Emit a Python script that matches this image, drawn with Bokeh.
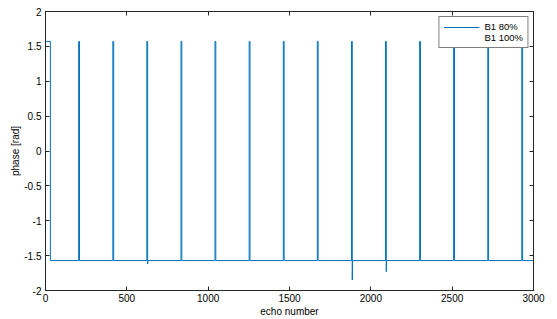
from bokeh.plotting import figure
from bokeh.models import Range1d, FixedTicker, LinearAxis, Legend, LegendItem, CustomJSTickFormatter
from bokeh.embed import file_html
from bokeh.resources import INLINE

# ---- data ----
start_high_end = 30                  # echoes at +pi/2 at the start
phase_high = 1.5708
phase_low = -1.5708
spike_echo = [204, 414, 623, 833, 1042, 1252, 1462, 1671, 1881, 2090, 2300, 2509, 2719, 2928]
spike_dip = [-1.5708, -1.5708, -1.62, -1.5708, -1.5708, -1.5708, -1.5708, -1.5708,
             -1.85, -1.73, -1.5708, -1.5708, -1.5708, -1.5708]
last_echo = 3000

xtick_vals = [0, 500, 1000, 1500, 2000, 2500, 3000]
xtick_labels = ["0", "500", "1000", "1500", "2000", "2500", "3000"]
ytick_vals = [-2, -1.5, -1, -0.5, 0, 0.5, 1, 1.5, 2]
ytick_labels = ["-2", "-1.5", "-1", "-0.5", "0", "0.5", "1", "1.5", "2"]
series_names = ["B1 80%", "B1 100%"]

# build step trace from the break points
xs = [0, start_high_end, start_high_end]
ys = [phase_high, phase_high, phase_low]
for s, d in zip(spike_echo, spike_dip):
    xs += [s, s, s + 5, s + 5, s + 6]
    ys += [phase_low, phase_high, phase_high, d, phase_low]
xs.append(last_echo)
ys.append(phase_low)

FONT = "Liberation Sans"
AX = "#262626"

p = figure(width=557, height=319, output_backend="svg", toolbar_location=None,
           x_range=Range1d(0, 3000), y_range=Range1d(-2, 2),
           min_border_left=45, min_border_right=24, min_border_top=11, min_border_bottom=27)
p.background_fill_color = "white"
p.border_fill_color = "white"
p.outline_line_color = AX
p.outline_line_width = 1
p.xgrid.visible = False
p.ygrid.visible = False

r1 = p.line(xs, ys, line_color="#0072BD", line_width=1)
r2 = p.line([0, 1], [phase_low, phase_low], line_alpha=0)

def style_axis(ax, ticks, labels, show_labels=True):
    ax.ticker = FixedTicker(ticks=ticks)
    ax.minor_tick_line_color = None
    ax.major_tick_in = 4
    ax.major_tick_out = 0
    ax.major_tick_line_color = AX
    ax.axis_line_color = AX
    ax.axis_line_width = 1
    ax.major_label_text_font = FONT
    ax.major_label_text_color = "black"
    ax.major_label_text_font_size = "10px"
    if show_labels:
        ax.major_label_overrides = {t: l for t, l in zip(ticks, labels)}
        ax.major_label_standoff = 4
    else:
        ax.formatter = CustomJSTickFormatter(code="return ''")
        ax.major_label_standoff = 0

style_axis(p.xaxis[0], xtick_vals, xtick_labels)
style_axis(p.yaxis[0], ytick_vals, ytick_labels)
p.xaxis[0].axis_label = "echo number"
p.yaxis[0].axis_label = "phase [rad]"
for ax in (p.xaxis[0], p.yaxis[0]):
    ax.axis_label_text_font = FONT
    ax.axis_label_text_font_style = "normal"
    ax.axis_label_text_font_size = "10px"
    ax.axis_label_text_color = "black"
    ax.axis_label_standoff = 0
p.xaxis[0].major_label_standoff = 3
p.xaxis[0].axis_label_standoff = 1

top_ax = LinearAxis()
style_axis(top_ax, xtick_vals, xtick_labels, show_labels=False)
p.add_layout(top_ax, "above")
right_ax = LinearAxis()
style_axis(right_ax, ytick_vals, ytick_labels, show_labels=False)
p.add_layout(right_ax, "right")

legend = Legend(items=[LegendItem(label=series_names[0], renderers=[r1]),
                       LegendItem(label=series_names[1], renderers=[r2])],
                location="top_right")
legend.label_text_font = FONT
legend.label_text_font_size = "9.5px"
legend.label_text_color = "black"
legend.label_height = 8
legend.glyph_height = 8
legend.glyph_width = 36
legend.spacing = 0
legend.padding = 4
legend.margin = 5
legend.label_standoff = 5
legend.border_line_color = "black"
legend.border_line_width = 1
legend.background_fill_color = "white"
legend.background_fill_alpha = 1
p.add_layout(legend, "center")

open("out.html", "w").write(file_html(p, INLINE))
